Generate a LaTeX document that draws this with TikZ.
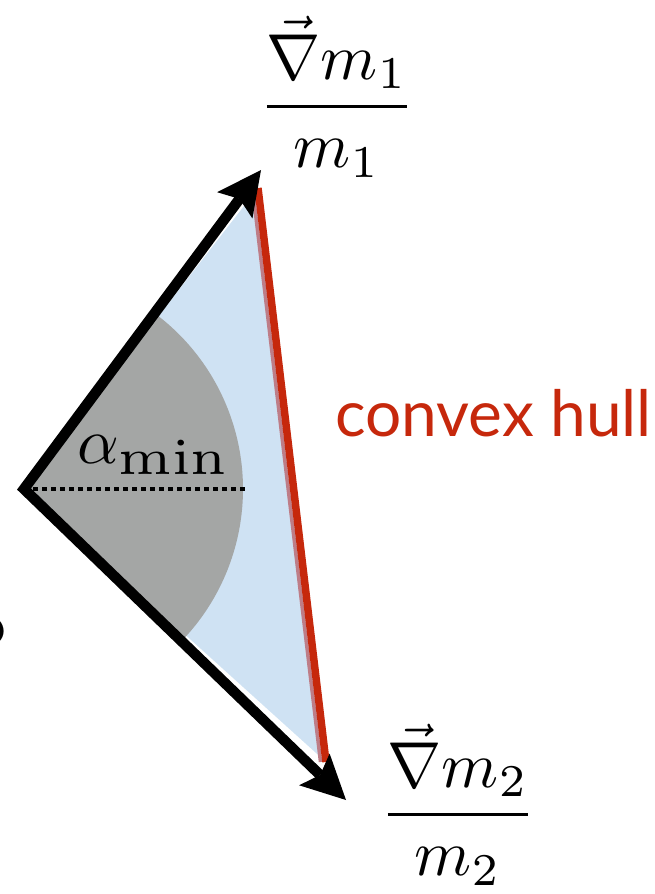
\documentclass[tikz,border=0pt]{standalone}
\usepackage{amsmath}
\usepackage[no-math]{fontspec}
\newfontfamily\latofont{Lato}
\usetikzlibrary{arrows.meta}
\definecolor{hullblue}{RGB}{207,226,243}
\definecolor{sectorgray}{RGB}{164,166,165}
\definecolor{hullred}{RGB}{198,40,12}
\definecolor{hullmauve}{RGB}{190,125,135}
\newcommand{\hugelabel}[1]{\scalebox{6.5}{#1}}
\tikzset{
  bighead/.tip={Stealth[length=44pt,width=44pt,inset=8pt,line width=0pt]},
  vecarrow/.style={line width=10.5pt, miter limit=10, bighead-bighead},
  bigmath/.style={inner sep=0pt},
  hulltext/.style={inner sep=0pt, text=hullred, font=\latofont\fontsize{64}{77}\selectfont}
}
\begin{document}
\begin{tikzpicture}[x=1pt,y=-1pt]
\useasboundingbox (0,0) rectangle (654,894);
\coordinate (O) at (24,489);
\coordinate (T1) at (261,170);
\coordinate (T2) at (346,800);
\coordinate (H1) at (258,188);
\coordinate (H2) at (326,762);
\coordinate (D) at (245,489);
% blue triangle
\fill[hullblue] (O) -- (H1) -- (H2) -- cycle;
% gray sector
\fill[sectorgray] (O) -- ++(53.4:219 and -219) arc[start angle=-53.4, end angle=44, radius=219] -- cycle;
% dotted line
\draw[line width=4pt, dash pattern=on 4.5pt off 4.5pt] (O) -- (D);
% hull edge
\draw[hullmauve, line width=3.5pt] ([xshift=-5.5pt]H1) -- ([xshift=-5.5pt]H2);
\draw[hullred, line width=7.5pt] (H1) -- (H2);
% arrows
\draw[vecarrow] (T1) -- (O) -- (T2);
% labels
\node[bigmath, anchor=base] (f1) at (337,123) {\hugelabel{$\dfrac{\vec{\nabla} m_1}{m_1}$}};
\node[bigmath, anchor=base] (f2) at (458,831) {\hugelabel{$\dfrac{\vec{\nabla} m_2}{m_2}$}};
\node[bigmath, anchor=base west] (a) at (77,463) {\hugelabel{$\alpha_{\scalebox{1.25}[1.12]{$\scriptstyle\min$}}$}};
\node[hulltext, anchor=base west] (ch) at (335,436) {convex hull};
\node[bigmath, anchor=base east] (cut) at (6,645) {\hugelabel{o}};
\end{tikzpicture}
\end{document}
